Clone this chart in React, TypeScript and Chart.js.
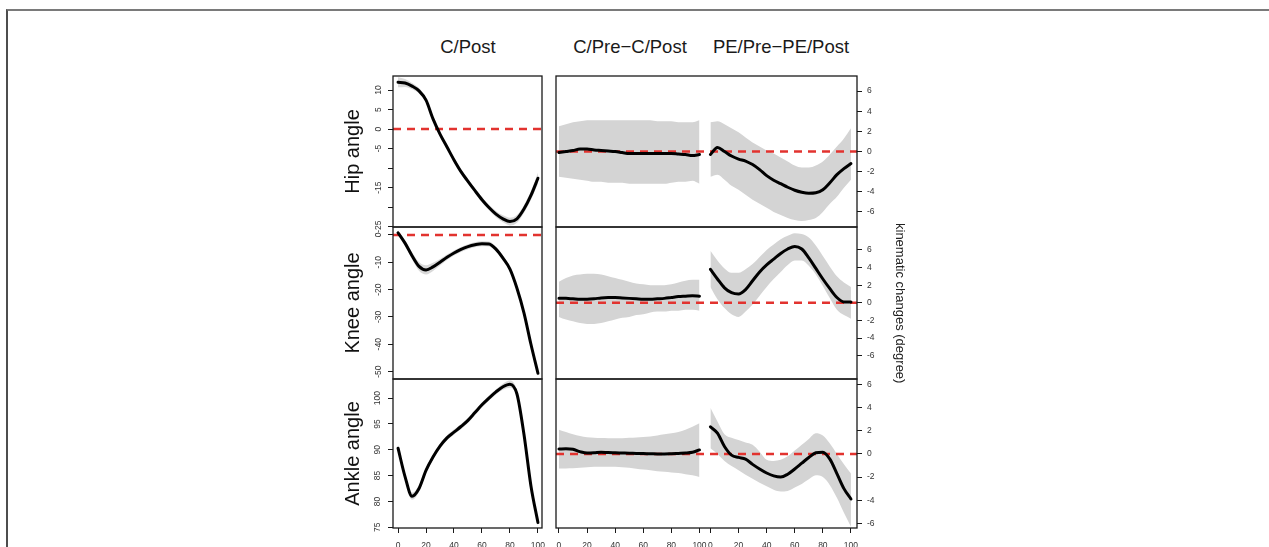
import React, { useEffect, useRef } from "react";
import { Chart, registerables } from "chart.js";

Chart.register(...registerables);

// ---------- data ----------
const T = [0, 5, 10, 15, 20, 25, 30, 35, 40, 45, 50, 55, 60, 65, 70, 75, 80, 85, 90, 95, 100];
const X_TICKS = [0, 20, 40, 60, 80, 100];
const DIFF_TICKS = [-6, -4, -2, 0, 2, 4, 6];

const COLUMN_TITLES = ["C/Post", "C/Pre\u2212C/Post", "PE/Pre\u2212PE/Post"];
const ROW_TITLES = ["Hip angle", "Knee angle", "Ankle angle"];
const SIDE_TITLE = "kinematic changes (degree)";

// C/Post (mean and half-width of band)
const HIP_POST = [12.0, 11.8, 11.0, 9.8, 7.4, 2.6, -1.3, -4.6, -7.9, -10.9, -13.4, -15.8, -18.1, -20.1, -21.8, -23.0, -23.7, -23.0, -20.5, -17.0, -12.6];
const HIP_POST_SPREAD = [1.3, 1.0, 0.8, 0.7, 0.6, 0.6, 0.6, 0.6, 0.6, 0.6, 0.6, 0.6, 0.7, 0.7, 0.8, 0.9, 1.0, 1.0, 1.0, 1.1, 1.4];
const HIP_POST_TICKS = [-25, -20, -15, -10, -5, 0, 5, 10];
const HIP_POST_LABELS = [-25, -15, -5, 0, 5, 10];

const KNEE_POST = [0.8, -3.0, -7.6, -11.5, -12.8, -11.7, -10.0, -8.2, -6.6, -5.3, -4.3, -3.6, -3.2, -3.3, -5.2, -8.5, -12.5, -19.5, -28.5, -40.0, -50.6];
const KNEE_POST_SPREAD = [0.9, 1.0, 1.3, 1.6, 1.7, 1.5, 1.2, 1.0, 0.9, 0.9, 0.9, 0.9, 0.9, 0.9, 0.9, 0.9, 1.0, 1.0, 1.0, 1.0, 1.0];
const KNEE_POST_TICKS = [-50, -40, -30, -20, -10, 0];

const ANKLE_POST = [90.3, 84.8, 81.0, 82.5, 86.0, 88.6, 90.7, 92.3, 93.4, 94.5, 95.7, 97.2, 98.7, 100.0, 101.2, 102.2, 102.7, 100.8, 93.0, 83.0, 75.9];
const ANKLE_POST_SPREAD = [0.6, 0.6, 0.7, 0.7, 0.6, 0.5, 0.5, 0.5, 0.5, 0.5, 0.5, 0.5, 0.5, 0.5, 0.5, 0.6, 0.7, 0.7, 0.7, 0.7, 0.7];
const ANKLE_POST_TICKS = [75, 80, 85, 90, 95, 100];

// C/Pre - C/Post differences
const HIP_C = [-0.1, 0.0, 0.1, 0.25, 0.25, 0.15, 0.1, 0.05, 0.0, -0.1, -0.2, -0.2, -0.2, -0.2, -0.2, -0.2, -0.2, -0.25, -0.3, -0.4, -0.3];
const HIP_C_UP = [2.5, 2.7, 2.9, 3.0, 3.1, 3.1, 3.1, 3.1, 3.1, 3.1, 3.1, 3.1, 3.1, 3.1, 3.0, 3.0, 3.0, 2.9, 2.9, 2.9, 3.1];
const HIP_C_LO = [-2.5, -2.6, -2.7, -2.8, -2.9, -3.0, -3.0, -3.1, -3.1, -3.1, -3.2, -3.2, -3.2, -3.2, -3.2, -3.2, -3.1, -3.0, -3.0, -2.9, -3.2];

const KNEE_C = [0.5, 0.5, 0.45, 0.4, 0.4, 0.45, 0.55, 0.6, 0.6, 0.55, 0.5, 0.45, 0.4, 0.4, 0.45, 0.5, 0.6, 0.7, 0.75, 0.8, 0.75];
const KNEE_C_UP = [2.4, 2.8, 3.1, 3.2, 3.3, 3.3, 3.2, 3.0, 2.8, 2.6, 2.4, 2.2, 2.1, 2.0, 2.0, 2.0, 2.1, 2.3, 2.5, 2.6, 2.6];
const KNEE_C_LO = [-1.6, -1.9, -2.1, -2.3, -2.4, -2.4, -2.3, -2.1, -1.9, -1.7, -1.6, -1.4, -1.3, -1.1, -1.0, -1.0, -0.9, -0.9, -0.8, -0.8, -0.9];

const ANKLE_C = [0.43, 0.45, 0.4, 0.2, 0.08, 0.1, 0.15, 0.12, 0.1, 0.08, 0.06, 0.05, 0.03, 0.02, 0.0, 0.0, 0.02, 0.05, 0.08, 0.15, 0.35];
const ANKLE_C_UP = [2.1, 1.9, 1.7, 1.55, 1.45, 1.4, 1.38, 1.36, 1.35, 1.37, 1.4, 1.43, 1.47, 1.52, 1.6, 1.7, 1.8, 1.9, 2.1, 2.35, 2.66];
const ANKLE_C_LO = [-1.25, -1.25, -1.24, -1.2, -1.15, -1.1, -1.1, -1.1, -1.1, -1.15, -1.2, -1.27, -1.35, -1.4, -1.5, -1.55, -1.6, -1.65, -1.75, -1.85, -2.0];

// PE/Pre - PE/Post differences
const HIP_PE = [-0.3, 0.4, 0.0, -0.45, -0.75, -0.95, -1.3, -1.8, -2.4, -2.85, -3.2, -3.55, -3.85, -4.05, -4.15, -4.1, -3.8, -3.1, -2.3, -1.7, -1.2];
const HIP_PE_UP = [2.9, 3.0, 2.7, 2.3, 1.9, 1.4, 0.9, 0.5, 0.1, -0.2, -0.6, -1.0, -1.4, -1.6, -1.6, -1.4, -1.0, -0.3, 0.5, 1.3, 2.3];
const HIP_PE_LO = [-2.5, -2.3, -2.8, -3.4, -3.8, -4.3, -4.8, -5.2, -5.6, -6.0, -6.3, -6.6, -6.8, -6.9, -6.8, -6.6, -6.0, -5.2, -4.5, -3.6, -2.8];

const KNEE_PE = [3.8, 2.7, 1.7, 1.15, 1.0, 1.5, 2.5, 3.5, 4.3, 4.95, 5.6, 6.1, 6.4, 6.1, 5.1, 3.9, 2.7, 1.6, 0.6, 0.1, 0.1];
const KNEE_PE_UP = [5.9, 4.8, 3.9, 3.4, 3.4, 3.8, 4.4, 5.2, 6.0, 6.6, 7.2, 7.6, 7.9, 7.8, 7.4, 6.5, 5.3, 4.1, 3.0, 2.3, 1.8];
const KNEE_PE_LO = [1.8, 0.4, -0.6, -1.3, -1.6, -1.0, -0.2, 0.8, 1.8, 2.7, 3.5, 4.3, 4.8, 4.8, 4.2, 3.2, 1.9, 0.5, -0.8, -1.4, -1.8];

const ANKLE_PE = [2.35, 1.8, 0.65, -0.1, -0.3, -0.45, -0.9, -1.3, -1.65, -1.9, -2.0, -1.75, -1.3, -0.8, -0.3, 0.1, 0.15, -0.45, -1.7, -3.0, -3.9];
const ANKLE_PE_UP = [4.0, 2.8, 1.7, 1.4, 1.2, 1.0, 0.8, 0.2, -0.5, -0.6, -0.5, -0.2, 0.3, 0.8, 1.3, 1.8, 1.6, 0.9, 0.0, -0.9, -1.7];
const ANKLE_PE_LO = [0.5, 0.0, -0.6, -1.05, -1.4, -1.8, -2.15, -2.5, -2.8, -3.1, -3.25, -3.2, -2.9, -2.6, -2.2, -1.85, -2.0, -2.7, -3.8, -5.1, -6.3];

// ---------- styling / layout ----------
const FONT = "'Liberation Sans', Arial, Helvetica, sans-serif";
const RED = "#e2332f";
const BAND = "#d4d4d4";
const BAND_LEFT = "#d9d9d9";
const INK = "#1a1a1a";
const TICK_COLOR = "#333";
const SEG_OFFSET = 107.8; // x shift of the second (PE) segment on the shared axis

type Box = { x: number; y: number; w: number; h: number };
type Pad = { l: number; t: number; r: number; b: number };

const ROWS = [
  { y: 76, h: 151 },
  { y: 227, h: 152 },
  { y: 379, h: 149 },
];
const LEFT_X = 393;
const LEFT_W = 149;
const RIGHT_X = 556;
const RIGHT_W = 301;

const framePlugin = {
  id: "frame",
  afterDraw(chart: any) {
    const { ctx, chartArea: a } = chart;
    ctx.save();
    ctx.strokeStyle = INK;
    ctx.lineWidth = 1.3;
    ctx.strokeRect(a.left, a.top, a.right - a.left, a.bottom - a.top);
    ctx.restore();
  },
};

const zeroPlugin = {
  id: "zeroLine",
  beforeDatasetDraw(chart: any, args: any, opts: any) {
    if (args.index !== opts.beforeIndex) return;
    const a = chart.chartArea;
    const y = chart.scales.y.getPixelForValue(0);
    if (y < a.top || y > a.bottom) return;
    const ctx = chart.ctx;
    ctx.save();
    ctx.strokeStyle = RED;
    ctx.lineWidth = 2.6;
    ctx.setLineDash([8, 6]);
    ctx.beginPath();
    ctx.moveTo(a.left, y);
    ctx.lineTo(a.right, y);
    ctx.stroke();
    ctx.restore();
  },
};

const tickFont = { family: FONT, size: 8.5 };
const fixedTicks = (values: number[]) => (scale: any) => {
  scale.ticks = values.map((v) => ({ value: v }));
};
const noOverflow = (s: any) => {
  s.paddingLeft = 0;
  s.paddingRight = 0;
  s.paddingTop = 0;
  s.paddingBottom = 0;
};
const pts = (vals: number[], off = 0) => T.map((t, i) => ({ x: t + off, y: vals[i] }));

const lineDs = (vals: number[], off = 0) => ({
  data: pts(vals, off),
  borderColor: "#000",
  borderWidth: 3,
  pointRadius: 0,
  cubicInterpolationMode: "monotone",
  borderCapStyle: "round",
  borderJoinStyle: "round",
  fill: false,
});
const bandDs = (vals: number[], color: string, fill: any, off = 0) => ({
  data: pts(vals, off),
  borderColor: "rgba(0,0,0,0)",
  borderWidth: 0,
  backgroundColor: color,
  pointRadius: 0,
  cubicInterpolationMode: "monotone",
  fill,
});

const tickGrid = { display: true, drawOnChartArea: false, drawTicks: true, tickLength: 5, color: INK, lineWidth: 1 };

function xFit(show: boolean, h: number) {
  return (s: any) => {
    s.height = show ? h : 0;
    noOverflow(s);
  };
}

function leftConfig(o: {
  mean: number[]; spread: number[]; yMin: number; yMax: number; yTicks: number[]; yLabels: number[];
  title: string; showX: boolean; pad: Pad;
}) {
  const upper = o.mean.map((v, i) => v + o.spread[i]);
  const lower = o.mean.map((v, i) => v - o.spread[i]);
  return {
    type: "line",
    data: { datasets: [lineDs(o.mean), bandDs(upper, BAND_LEFT, "+1"), bandDs(lower, BAND_LEFT, false)] },
    options: {
      animation: false,
      responsive: false,
      maintainAspectRatio: false,
      events: [],
      layout: { padding: { left: 0, top: o.pad.t, right: o.pad.r, bottom: o.showX ? 0 : o.pad.b } },
      plugins: { legend: { display: false }, tooltip: { enabled: false }, zeroLine: { beforeIndex: 0 } },
      scales: {
        x: {
          type: "linear",
          min: -3.6,
          max: 102.9,
          display: o.showX,
          afterBuildTicks: fixedTicks(X_TICKS),
          afterFit: xFit(o.showX, o.pad.b),
          ticks: { font: tickFont, color: TICK_COLOR, padding: 8, autoSkip: false, maxRotation: 0, minRotation: 0 },
          grid: tickGrid,
          border: { display: false },
        },
        y: {
          type: "linear",
          position: "left",
          min: o.yMin,
          max: o.yMax,
          afterBuildTicks: fixedTicks(o.yTicks),
          afterFit: (s: any) => { s.width = o.pad.l; noOverflow(s); },
          ticks: {
            font: tickFont, color: TICK_COLOR, padding: 3, autoSkip: false,
            minRotation: 90, maxRotation: 90, crossAlign: "center",
            callback: (v: number) => (o.yLabels.includes(v) ? String(v) : ""),
          },
          grid: tickGrid,
          border: { display: false },
          title: { display: true, text: o.title, color: "#111", font: { family: FONT, size: 20 }, padding: { top: 4, bottom: 0 } },
        },
      },
    },
    plugins: [framePlugin, zeroPlugin],
  };
}

function rightConfig(o: {
  c: number[]; cUp: number[]; cLo: number[]; pe: number[]; peUp: number[]; peLo: number[];
  yMin: number; yMax: number; showX: boolean; pad: Pad;
}) {
  const xTicks = [...X_TICKS, ...X_TICKS.map((v) => v + SEG_OFFSET)];
  return {
    type: "line",
    data: {
      datasets: [
        lineDs(o.c),
        lineDs(o.pe, SEG_OFFSET),
        bandDs(o.cUp, BAND, "+1"),
        bandDs(o.cLo, BAND, false),
        bandDs(o.peUp, BAND, "+1", SEG_OFFSET),
        bandDs(o.peLo, BAND, false, SEG_OFFSET),
      ],
    },
    options: {
      animation: false,
      responsive: false,
      maintainAspectRatio: false,
      events: [],
      layout: { padding: { left: o.pad.l, top: o.pad.t, right: 0, bottom: o.showX ? 0 : o.pad.b } },
      plugins: { legend: { display: false }, tooltip: { enabled: false }, zeroLine: { beforeIndex: 1 } },
      scales: {
        x: {
          type: "linear",
          min: -2.1,
          max: 212.1,
          display: o.showX,
          afterBuildTicks: fixedTicks(xTicks),
          afterFit: xFit(o.showX, o.pad.b),
          ticks: {
            font: tickFont, color: TICK_COLOR, padding: 8, autoSkip: false, maxRotation: 0, minRotation: 0,
            callback: (v: number) => String(v > 104 ? Math.round(v - SEG_OFFSET) : v),
          },
          grid: tickGrid,
          border: { display: false },
        },
        y: {
          type: "linear",
          position: "right",
          min: o.yMin,
          max: o.yMax,
          afterBuildTicks: fixedTicks(DIFF_TICKS),
          afterFit: (s: any) => { s.width = o.pad.r; noOverflow(s); },
          ticks: { font: tickFont, color: TICK_COLOR, padding: 5, autoSkip: false },
          grid: tickGrid,
          border: { display: false },
        },
      },
    },
    plugins: [framePlugin, zeroPlugin],
  };
}

function Panel({ box, pad, config }: { box: Box; pad: Pad; config: any }) {
  const ref = useRef<HTMLCanvasElement>(null);
  const w = box.w + pad.l + pad.r;
  const h = box.h + pad.t + pad.b;
  useEffect(() => {
    const chart = new Chart(ref.current as HTMLCanvasElement, config);
    return () => chart.destroy();
  }, []);
  return (
    <div style={{ position: "absolute", left: box.x - pad.l, top: box.y - pad.t, width: w, height: h }}>
      <canvas ref={ref} width={w} height={h} style={{ display: "block", width: w, height: h }} />
    </div>
  );
}

const titleStyle = (cx: number): React.CSSProperties => ({
  position: "absolute",
  left: cx - 120,
  width: 240,
  top: 36,
  lineHeight: "22px",
  fontSize: 18.5,
  textAlign: "center",
  color: "#1a1a1a",
  whiteSpace: "nowrap",
});

export default function App() {
  const lp = (i: number): Pad => ({ l: 56, t: 6, r: 4, b: i === 2 ? 30 : 10 });
  const rp = (i: number): Pad => ({ l: 4, t: 6, r: 51, b: i === 2 ? 30 : 10 });
  const leftBox = (i: number): Box => ({ x: LEFT_X, y: ROWS[i].y, w: LEFT_W, h: ROWS[i].h });
  const rightBox = (i: number): Box => ({ x: RIGHT_X, y: ROWS[i].y, w: RIGHT_W, h: ROWS[i].h });

  return (
    <div
      style={{
        position: "absolute", left: 0, top: 0, width: 1269, height: 547,
        overflow: "hidden", background: "#fff", fontFamily: FONT,
      }}
    >
      <div
        style={{
          position: "absolute", left: 6, top: 9, width: 1300, height: 600,
          borderTop: "2px solid #7a7a7a", borderLeft: "2px solid #4d4d4d",
        }}
      />
      <div style={titleStyle(468)}>{COLUMN_TITLES[0]}</div>
      <div style={titleStyle(630)}>{COLUMN_TITLES[1]}</div>
      <div style={titleStyle(781)}>{COLUMN_TITLES[2]}</div>

      <Panel box={leftBox(0)} pad={lp(0)} config={leftConfig({
        mean: HIP_POST, spread: HIP_POST_SPREAD, yMin: -25.1, yMax: 13.6,
        yTicks: HIP_POST_TICKS, yLabels: HIP_POST_LABELS, title: ROW_TITLES[0], showX: false, pad: lp(0),
      })} />
      <Panel box={leftBox(1)} pad={lp(1)} config={leftConfig({
        mean: KNEE_POST, spread: KNEE_POST_SPREAD, yMin: -52.7, yMax: 2.9,
        yTicks: KNEE_POST_TICKS, yLabels: KNEE_POST_TICKS, title: ROW_TITLES[1], showX: false, pad: lp(1),
      })} />
      <Panel box={leftBox(2)} pad={lp(2)} config={leftConfig({
        mean: ANKLE_POST, spread: ANKLE_POST_SPREAD, yMin: 74.85, yMax: 103.7,
        yTicks: ANKLE_POST_TICKS, yLabels: ANKLE_POST_TICKS, title: ROW_TITLES[2], showX: true, pad: lp(2),
      })} />

      <Panel box={rightBox(0)} pad={rp(0)} config={rightConfig({
        c: HIP_C, cUp: HIP_C_UP, cLo: HIP_C_LO, pe: HIP_PE, peUp: HIP_PE_UP, peLo: HIP_PE_LO,
        yMin: -7.5, yMax: 7.5, showX: false, pad: rp(0),
      })} />
      <Panel box={rightBox(1)} pad={rp(1)} config={rightConfig({
        c: KNEE_C, cUp: KNEE_C_UP, cLo: KNEE_C_LO, pe: KNEE_PE, peUp: KNEE_PE_UP, peLo: KNEE_PE_LO,
        yMin: -8.65, yMax: 8.6, showX: false, pad: rp(1),
      })} />
      <Panel box={rightBox(2)} pad={rp(2)} config={rightConfig({
        c: ANKLE_C, cUp: ANKLE_C_UP, cLo: ANKLE_C_LO, pe: ANKLE_PE, peUp: ANKLE_PE_UP, peLo: ANKLE_PE_LO,
        yMin: -6.41, yMax: 6.49, showX: true, pad: rp(2),
      })} />

      <div
        style={{
          position: "absolute", left: 892, top: 182, width: 16, height: 242,
          writingMode: "vertical-rl", textAlign: "center", lineHeight: "16px",
          fontSize: 13, color: "#222", whiteSpace: "nowrap",
        }}
      >
        {SIDE_TITLE}
      </div>
    </div>
  );
}
